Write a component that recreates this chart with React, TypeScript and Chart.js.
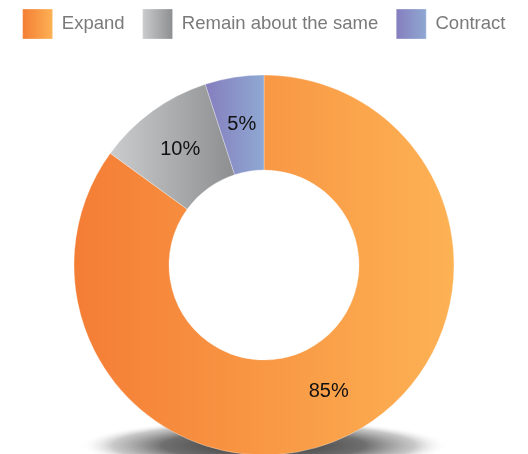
import React, { useEffect, useRef } from "react";
import { Chart, registerables } from "chart.js";

Chart.register(...registerables);

const categories = ["Expand", "Remain about the same", "Contract"];
const shares = [85, 10, 5];
const gradientStops: [string, string][] = [
  ["#F47D35", "#FDB254"],
  ["#CBCCCD", "#8D8E90"],
  ["#857EBE", "#8FA8D2"],
];

const FONT = "'Liberation Sans', Arial, Helvetica, sans-serif";
const LEGEND_SHIFT = 27;

function makeGrad(ctx: CanvasRenderingContext2D, x0: number, x1: number, stops: [string, string]) {
  const g = ctx.createLinearGradient(x0, 0, x1, 0);
  g.addColorStop(0, stops[0]);
  g.addColorStop(1, stops[1]);
  return g;
}

function arcXRange(a: any): [number, number] {
  const { x, startAngle, endAngle, innerRadius, outerRadius } = a;
  const xs: number[] = [];
  for (const r of [innerRadius, outerRadius]) {
    xs.push(x + r * Math.cos(startAngle), x + r * Math.cos(endAngle));
  }
  for (let k = -4; k <= 4; k++) {
    const ang = k * Math.PI;
    if (ang > startAngle && ang < endAngle) xs.push(x + outerRadius * Math.cos(ang));
  }
  return [Math.min(...xs), Math.max(...xs)];
}

const decorPlugin = {
  id: "decor",
  afterLayout(chart: any) {
    const legend = chart.legend;
    if (legend) {
      legend.top -= LEGEND_SHIFT;
      legend.bottom -= LEGEND_SHIFT;
    }
  },
  beforeDraw(chart: any) {
    const ctx = chart.ctx;
    const legend = chart.legend;
    if (legend && legend.legendItems && legend.legendHitBoxes) {
      legend.legendItems.forEach((item: any, i: number) => {
        const hb = legend.legendHitBoxes[i];
        if (!hb) return;
        item.fillStyle = makeGrad(ctx, hb.left, hb.left + 30, gradientStops[i]);
      });
    }
  },
  beforeDatasetsDraw(chart: any) {
    const ctx = chart.ctx;
    const meta = chart.getDatasetMeta(0);
    const arcs = meta.data;
    if (!arcs.length) return;
    const a0: any = arcs[0];
    // shadow
    const cx = a0.x;
    const cy = a0.y + a0.outerRadius * 0.95;
    const rx = a0.outerRadius * 0.97;
    const ry = 26;
    ctx.save();
    ctx.translate(cx, cy);
    ctx.scale(1, ry / rx);
    const rg = ctx.createRadialGradient(0, 0, 0, 0, 0, rx);
    rg.addColorStop(0, "rgba(40,40,40,0.95)");
    rg.addColorStop(0.55, "rgba(70,70,70,0.78)");
    rg.addColorStop(0.82, "rgba(120,120,120,0.4)");
    rg.addColorStop(1, "rgba(255,255,255,0)");
    ctx.fillStyle = rg;
    ctx.beginPath();
    ctx.arc(0, 0, rx, 0, Math.PI * 2);
    ctx.fill();
    ctx.restore();
    // per-slice gradients
    arcs.forEach((arc: any, i: number) => {
      const [x0, x1] = arcXRange(arc);
      arc.options = Object.assign({}, arc.options, {
        backgroundColor: makeGrad(ctx, x0, x1, gradientStops[i]),
      });
    });
  },
  afterDatasetsDraw(chart: any) {
    const ctx = chart.ctx;
    const meta = chart.getDatasetMeta(0);
    ctx.save();
    ctx.font = `20px ${FONT}`;
    ctx.fillStyle = "#111";
    ctx.textAlign = "center";
    ctx.textBaseline = "middle";
    meta.data.forEach((arc: any, i: number) => {
      const p = arc.tooltipPosition();
      ctx.fillText(`${shares[i]}%`, p.x, p.y);
    });
    ctx.restore();
  },
};

export default function App() {
  const ref = useRef<HTMLCanvasElement>(null);
  useEffect(() => {
    document.body.style.margin = "0";
    const chart = new Chart(ref.current!, {
      type: "doughnut",
      data: {
        labels: categories,
        datasets: [
          {
            data: shares,
            backgroundColor: ["#F8994A", "#ABACAE", "#8A93C8"],
            borderColor: "rgba(255,255,255,0.6)",
            borderWidth: 0.5,
            radius: 190,
            cutout: "50%",
          } as any,
        ],
      },
      options: {
        animation: false,
        responsive: false,
        layout: { padding: { top: 18, bottom: 0, left: 0, right: 0 } },
        plugins: {
          legend: {
            position: "top",
            labels: {
              boxWidth: 30,
              boxHeight: 30,
              padding: 18,
              color: "#7a7a7a",
              font: { size: 18.5, family: FONT },
            },
          },
          tooltip: { enabled: false },
        },
      },
      plugins: [decorPlugin],
    });
    return () => chart.destroy();
  }, []);
  return (
    <div style={{ width: 528, height: 454, overflow: "hidden" }}>
      <canvas ref={ref} width={528} height={454} style={{ display: "block" }} />
    </div>
  );
}
